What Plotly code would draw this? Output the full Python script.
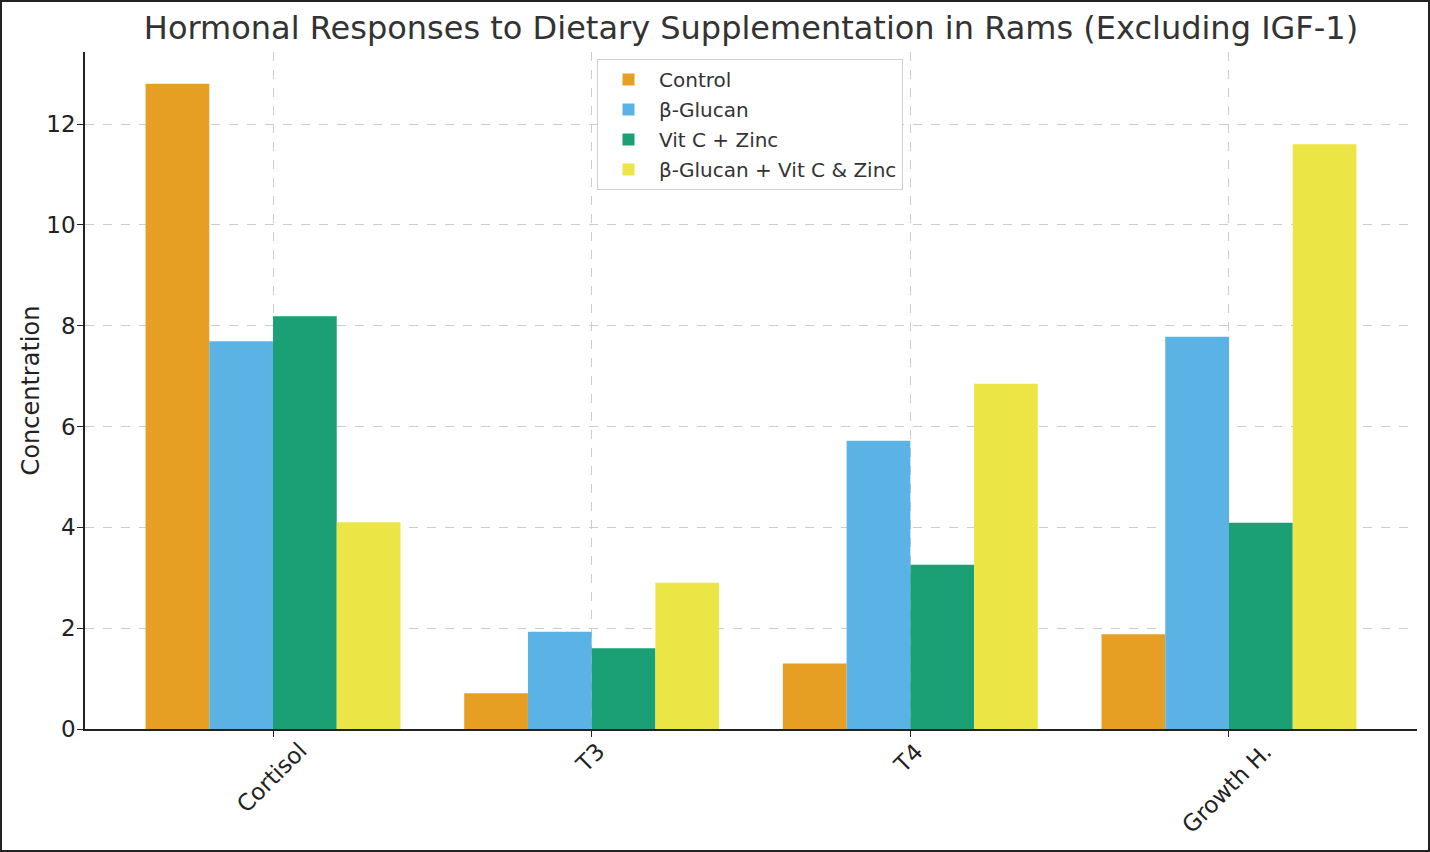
import plotly.graph_objects as go

# data
hormones = ["Cortisol", "T3", "T4", "Growth H."]
control = [12.8, 0.71, 1.30, 1.88]
beta_glucan = [7.69, 1.93, 5.72, 7.78]
vitc_zinc = [8.19, 1.60, 3.26, 4.09]
combo = [4.10, 2.90, 6.85, 11.6]

series_names = ["Control", "β-Glucan", "Vit C + Zinc", "β-Glucan + Vit C & Zinc"]
series_values = [control, beta_glucan, vitc_zinc, combo]
colors = ["#E69F23", "#5AB2E5", "#1BA076", "#EBE645"]

W, H = 1430, 852
ml, mr, mt, mb = 85, 13, 52, 123
pw, ph = W - ml - mr, H - mt - mb

fig = go.Figure()
for i, (name, vals, col) in enumerate(zip(series_names, series_values, colors)):
    fig.add_trace(go.Bar(x=hormones, y=vals, name=name, legendgroup=str(i),
                         marker=dict(color=col, line=dict(width=0))))

fig.update_layout(
    width=W, height=H,
    margin=dict(l=ml, r=mr, t=mt, b=mb),
    paper_bgcolor="white", plot_bgcolor="white",
    barmode="group", bargap=0.2, bargroupgap=0,
    font=dict(family="DejaVu Sans", color="#222", size=22),
    title=dict(text="Hormonal Responses to Dietary Supplementation in Rams (Excluding IGF-1)",
               xref="paper", x=0.5, xanchor="center", y=1 - 28 / H, yanchor="middle",
               font=dict(size=32, color="#333")),
    legend=dict(x=(597 - ml) / pw, y=(729 - 59) / ph, xanchor="left", yanchor="top",
                bgcolor="white", bordercolor="#d0d0d0", borderwidth=1,
                font=dict(size=20, color="#333"), tracegroupgap=1, itemwidth=51),
    showlegend=True,
)

fig.update_xaxes(
    range=[-0.59, 3.59], showticklabels=False,
    showgrid=True, gridcolor="#cccccc", griddash="dash", gridwidth=1,
    showline=True, linecolor="#222", linewidth=1.5,
    ticks="outside", ticklen=6, tickcolor="#222",
)
fig.update_yaxes(
    range=[0, 13.43], tickvals=[0, 2, 4, 6, 8, 10, 12],
    showgrid=True, gridcolor="#cccccc", griddash="dash", gridwidth=1,
    showline=True, linecolor="#222", linewidth=1.5,
    ticks="outside", ticklen=6, tickcolor="#222",
    tickfont=dict(size=23), zeroline=False, ticklabelstandoff=-3,
    title=dict(text="Concentration", font=dict(size=24), standoff=0),
)

# rotated category labels, centred under their ticks
for h in hormones:
    fig.add_annotation(x=h, y=0, xref="x", yref="y", text=h, showarrow=False,
                       textangle=-45, xanchor="center", yanchor="top", yshift=-6, xshift=-2,
                       font=dict(size=23, color="#222"))

# border around the whole image
fig.add_shape(type="rect", xref="paper", yref="paper",
              x0=(1 - ml) / pw, x1=(W - 1 - ml) / pw,
              y0=(729 - (H - 1)) / ph, y1=(729 - 1) / ph,
              line=dict(color="#222", width=2), layer="above")

fig.write_html("out.html", config={"displayModeBar": False},
               post_script="document.body.style.margin='0';")
